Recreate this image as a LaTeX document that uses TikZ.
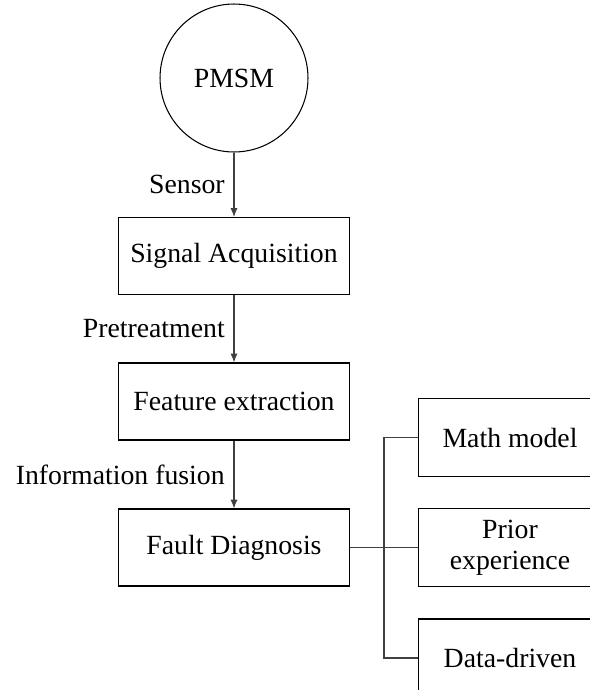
\documentclass[tikz,border=0pt]{standalone}
\usepackage{fontspec}
\setmainfont{Liberation Serif}
\usetikzlibrary{arrows.meta}

\begin{document}
\begin{tikzpicture}[x=0.02cm, y=-0.02cm,
    box/.style={draw, line width=0.6pt, minimum width=4.62cm, minimum height=1.54cm,
      inner sep=0pt, align=center, font=\fontsize{15.8}{17.5}\selectfont},
    method/.style={box, draw=none, minimum width=3.64cm},
    frame/.style={line width=0.6pt},
    flow/.style={draw=black!75, line width=0.6pt, -{Latex[length=5pt,width=4pt]}},
    link/.style={draw=black!75, line width=0.6pt},
    lbl/.style={left, inner sep=5pt, font=\fontsize{15.8}{17.5}\selectfont}]
  \useasboundingbox (0,0) rectangle (590,690);

  % Main chain
  \node[circle, draw, line width=0.6pt, minimum size=2.96cm, inner sep=0pt,
    font=\fontsize{15.8}{17.5}\selectfont] (pmsm) at (234,78) {PMSM};
  \node[box] (signal) at (234,256) {Signal Acquisition};
  \node[box] (feature) at (234,401.5) {Feature extraction};
  \node[box] (fault) at (234,547.5) {Fault Diagnosis};

  \draw[flow] (pmsm) -- (signal) node[midway, lbl] {Sensor};
  \draw[flow] (signal) -- (feature) node[midway, lbl] {Pretreatment};
  \draw[flow] (feature) -- (fault) node[midway, lbl] {Information fusion};

  % Diagnosis methods (boxes open to the right, cut by the page edge)
  \node[method] (math) at (510,437.5) {Math model};
  \node[method] (prior) at (510,547.5) {Prior\\experience};
  \node[method] (data) at (510,658) {Data-driven};
  \foreach \m in {math,prior,data}
    \draw[frame] ([xshift=0.3cm]\m.north east) -- (\m.north west)
      -- (\m.south west) -- ([xshift=0.3cm]\m.south east);

  \coordinate (split) at (384,547.5);
  \draw[link] (fault.east) -- (prior.west);
  \draw[link] (math.west) -| (split |- data.west) -- (data.west);
\end{tikzpicture}
\end{document}
